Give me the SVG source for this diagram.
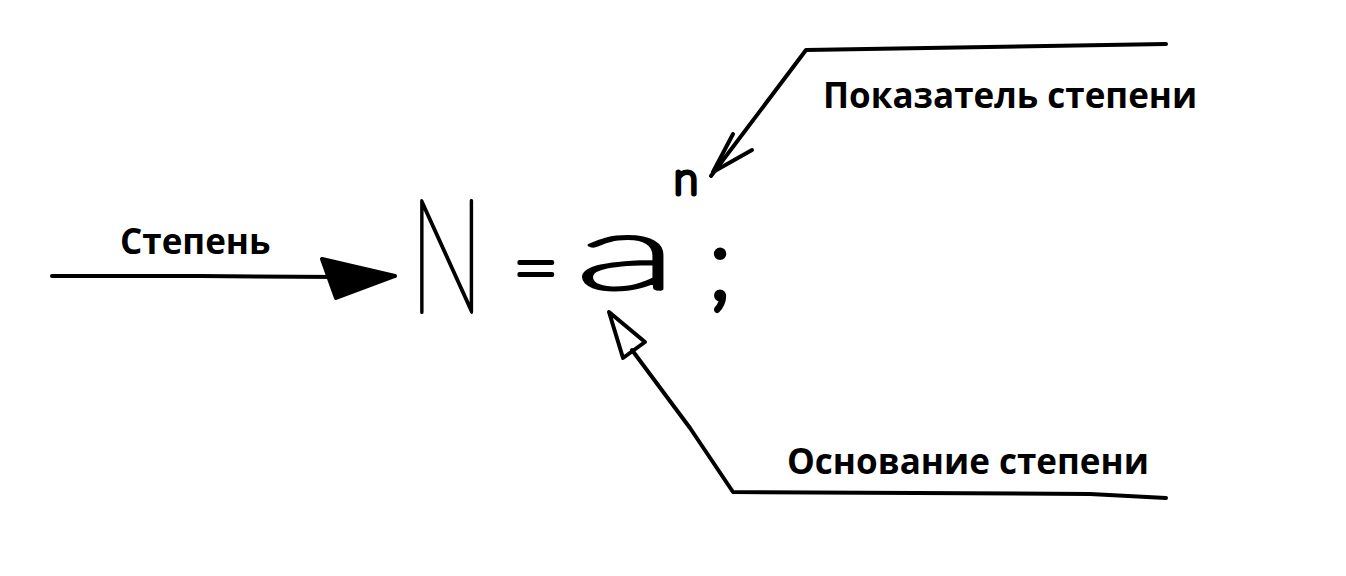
<svg xmlns="http://www.w3.org/2000/svg" width="1346" height="576" viewBox="0 0 1346 576">
<style>
.lbl{font-family:"Open Sans","Noto Sans","DejaVu Sans",sans-serif;font-weight:700;font-size:35px;fill:#000}
.hand{font-family:Lato,"DejaVu Sans",sans-serif;font-weight:100;fill:#000;stroke:#000;stroke-width:4;stroke-linejoin:round;stroke-linecap:round}
.ln{fill:none;stroke:#000;stroke-width:4;stroke-linecap:round;stroke-linejoin:round}
</style>
<rect width="1346" height="576" fill="#fff"/>
<g id="connectors">
  <g id="arrow-stepen">
    <path class="ln" d="M52,276 L200,276 L340,277"/>
    <path d="M322,259 L395,276 L336,298 Z" fill="#000" stroke="#000" stroke-width="4" stroke-linejoin="round"/>
  </g>
  <g id="arrow-pokazatel">
    <path class="ln" d="M1166,44 L806,50 L711,176"/>
    <path class="ln" d="M733,134 L713,172 L752,150"/>
  </g>
  <g id="arrow-osnovanie">
    <path class="ln" d="M1166,498 L1090,494 L733,492 L690,428 L632,350"/>
    <path class="ln" d="M609,312 L645,342 L623,358 Z"/>
  </g>
</g>
<g id="node-stepen"><text class="lbl" x="120" y="254">Степень</text></g>
<g id="node-pokazatel"><text class="lbl" x="823" y="108">Показатель степени</text></g>
<g id="node-osnovanie"><text class="lbl" x="787" y="474">Основание степени</text></g>
<g id="node-formula">
  <text class="hand" transform="translate(410,312) scale(0.62,1)" x="0" y="0" font-size="158">N</text>
  <text class="hand" x="512" y="296" font-size="82">=</text>
  <text class="hand" transform="translate(575,289) scale(2.1,1)" x="0" y="0" font-size="104">a</text>
  <text class="hand" x="674" y="194" font-size="44" style="stroke-width:5">n</text>
  <text class="hand" x="708" y="298" font-size="100" style="stroke-width:6">;</text>
</g>
</svg>
